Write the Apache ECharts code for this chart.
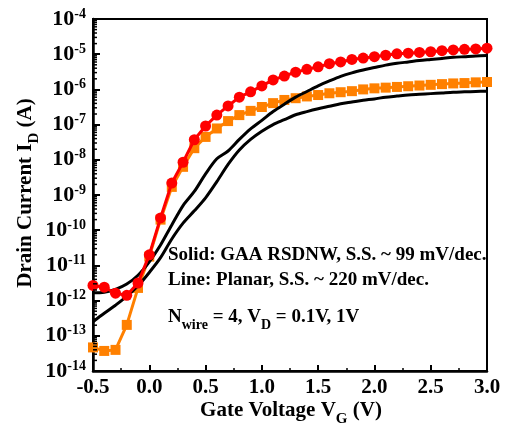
<!DOCTYPE html>
<html>
<head>
<meta charset="utf-8">
<script src="https://cdn.jsdelivr.net/npm/echarts@6/dist/echarts.min.js"></script>
<style>
  html, body { margin: 0; padding: 0; background: #fff; }
  #chart { width: 508px; height: 426px; }
</style>
</head>
<body>
<div id="chart"></div>
<script>
// gate voltage (V), every 0.1 V
var gateV = [-0.5, -0.4, -0.3, -0.2, -0.1, 0.0, 0.1, 0.2, 0.3, 0.4, 0.5, 0.6, 0.7, 0.8, 0.9,
    1.0, 1.1, 1.2, 1.3, 1.4, 1.5, 1.6, 1.7, 1.8, 1.9, 2.0, 2.1, 2.2, 2.3, 2.4, 2.5, 2.6, 2.7, 2.8, 2.9, 3.0];

// log10 of drain current (A)
var gaaHighLog = [-11.57, -11.62, -11.79, -11.85, -11.5, -10.7, -9.65, -8.66, -8.07, -7.43, -7.04, -6.73, -6.47, -6.22, -6.07,
    -5.90, -5.73, -5.62, -5.51, -5.43, -5.36, -5.27, -5.22, -5.15, -5.11, -5.07, -5.03, -4.99, -4.97, -4.95, -4.93, -4.90, -4.88, -4.86, -4.85, -4.83];
var gaaLowLog = [-13.33, -13.43, -13.4, -12.69, -11.64, -10.75, -9.7, -8.77, -8.2, -7.67, -7.35, -7.11, -6.9, -6.73, -6.61,
    -6.5, -6.39, -6.3, -6.25, -6.2, -6.16, -6.11, -6.08, -6.05, -6.0, -5.97, -5.95, -5.93, -5.91, -5.89, -5.87, -5.85, -5.83, -5.82, -5.80, -5.79];
var planarHighLog = [-11.78, -11.76, -11.68, -11.53, -11.28, -10.9, -10.42, -9.85, -9.3, -8.9, -8.4, -7.97, -7.75, -7.42, -7.12,
    -6.88, -6.63, -6.42, -6.22, -6.06, -5.9, -5.76, -5.63, -5.53, -5.45, -5.38, -5.31, -5.26, -5.22, -5.18, -5.15, -5.12, -5.09, -5.07, -5.05, -5.04];
var planarLowLog = [-12.6, -12.36, -12.13, -11.88, -11.58, -11.2, -10.78, -10.25, -9.8, -9.45, -9.08, -8.62, -8.13, -7.72, -7.42,
    -7.19, -7.0, -6.86, -6.72, -6.63, -6.55, -6.48, -6.41, -6.36, -6.31, -6.27, -6.22, -6.19, -6.16, -6.14, -6.12, -6.10, -6.08, -6.07, -6.06, -6.05];

var xTicks = [-0.5, 0.0, 0.5, 1.0, 1.5, 2.0, 2.5, 3.0];
var yDecades = [-14, -13, -12, -11, -10, -9, -8, -7, -6, -5, -4];

var FONT = '"Liberation Serif", "Times New Roman", serif';

function toPairs(logs) {
    return gateV.map(function (v, i) { return [v, Math.pow(10, logs[i])]; });
}

// log-spaced minor ticks on the left axis (2..9 x each decade)
var minorY = [];
yDecades.slice(0, -1).forEach(function (d) {
    for (var k = 2; k <= 9; k++) minorY.push([xTicks[0], k * Math.pow(10, d)]);
});

var chart = echarts.init(document.getElementById('chart'));
var option = {
    animation: false,
    backgroundColor: '#fff',
    grid: {
        left: 93, top: 19, right: 21, bottom: 55,
        show: true, borderColor: '#000', borderWidth: 2
    },
    xAxis: {
        type: 'value',
        min: -0.5, max: 3.0, interval: 0.5,
        axisLine: { onZero: false, lineStyle: { color: '#000', width: 2.5 } },
        axisTick: { inside: true, length: 6, lineStyle: { color: '#000', width: 2 } },
        minorTick: { show: true, splitNumber: 2, length: 3, lineStyle: { color: '#000', width: 1.5 } },
        splitLine: { show: false },
        axisLabel: {
            margin: 6, color: '#000', fontFamily: FONT, fontWeight: 'bold', fontSize: 21,
            formatter: function (v) { return v.toFixed(1); }
        }
    },
    yAxis: {
        type: 'log', logBase: 10,
        min: 1e-14, max: 1e-4, interval: 1,
        axisLine: { onZero: false, lineStyle: { color: '#000', width: 2.5 } },
        axisTick: { inside: true, length: 7, lineStyle: { color: '#000', width: 2 } },
        splitLine: { show: false },
        axisLabel: {
            margin: 7, color: '#000', fontFamily: FONT, fontWeight: 'bold',
            formatter: function (v) {
                return '{b|10}{s|' + Math.round(Math.log10(v)) + '}';
            },
            rich: {
                b: { fontSize: 22, fontFamily: FONT, fontWeight: 'bold', color: '#000' },
                s: { fontSize: 14, fontFamily: FONT, fontWeight: 'bold', color: '#000', padding: [0, 0, 10, 0] }
            }
        }
    },
    series: [
        {
            name: 'minorY', type: 'custom', silent: true, z: 10,
            data: minorY,
            renderItem: function (params, api) {
                var p = api.coord([api.value(0), api.value(1)]);
                return {
                    type: 'line',
                    shape: { x1: p[0], y1: p[1], x2: p[0] + 4, y2: p[1] },
                    style: { stroke: '#000', lineWidth: 1.5 }
                };
            }
        },
        {
            name: 'GAA 0.1V', type: 'line', z: 2,
            data: toPairs(gaaLowLog),
            symbol: 'rect', symbolSize: 10,
            itemStyle: { color: '#ff8000' },
            lineStyle: { color: '#ff8000', width: 3 }
        },
        {
            name: 'Planar 1V', type: 'line', z: 3, smooth: 0.3,
            data: toPairs(planarHighLog), showSymbol: false,
            lineStyle: { color: '#000', width: 3 }
        },
        {
            name: 'Planar 0.1V', type: 'line', z: 3, smooth: 0.3,
            data: toPairs(planarLowLog), showSymbol: false,
            lineStyle: { color: '#000', width: 3 }
        },
        {
            name: 'GAA 1V', type: 'line', z: 4,
            data: toPairs(gaaHighLog),
            symbol: 'circle', symbolSize: 11,
            itemStyle: { color: '#ff0000' },
            lineStyle: { color: '#ff0000', width: 3 }
        }
    ],
    graphic: [
        {
            type: 'text', x: 168, y: 255,
            style: { text: 'Solid: GAA RSDNW, S.S. ~ 99 mV/dec.', font: 'bold 19px ' + FONT, fill: '#000', verticalAlign: 'middle' }
        },
        {
            type: 'text', x: 168, y: 280,
            style: { text: 'Line: Planar, S.S. ~ 220 mV/dec.', font: 'bold 19px ' + FONT, fill: '#000', verticalAlign: 'middle' }
        },
        {
            type: 'text', x: 168, y: 308,
            style: {
                text: '{n|N}{sub|wire}{n| = 4, V}{sub|D}{n| = 0.1V, 1V}',
                rich: {
                    n: { font: 'bold 19px ' + FONT, fill: '#000', verticalAlign: 'bottom' },
                    sub: { font: 'bold 14px ' + FONT, fill: '#000', verticalAlign: 'bottom', padding: [0, 0, -5, 0] }
                }
            }
        },
        {
            type: 'text', x: 291, y: 411,
            style: {
                text: '{n|Gate Voltage V}{sub|G}{n| (V)}',
                align: 'center', verticalAlign: 'middle',
                rich: {
                    n: { font: 'bold 21px ' + FONT, fill: '#000', verticalAlign: 'bottom' },
                    sub: { font: 'bold 15px ' + FONT, fill: '#000', verticalAlign: 'bottom', padding: [0, 0, -5, 0] }
                }
            }
        },
        {
            type: 'text', x: 26, y: 193, rotation: Math.PI / 2,
            style: {
                text: '{n|Drain Current I}{sub|D}{n| (A)}',
                align: 'center', verticalAlign: 'middle',
                rich: {
                    n: { font: 'bold 21px ' + FONT, fill: '#000', verticalAlign: 'bottom' },
                    sub: { font: 'bold 15px ' + FONT, fill: '#000', verticalAlign: 'bottom', padding: [0, 0, -5, 0] }
                }
            }
        }
    ]
};
chart.setOption(option);
</script>
</body>
</html>
